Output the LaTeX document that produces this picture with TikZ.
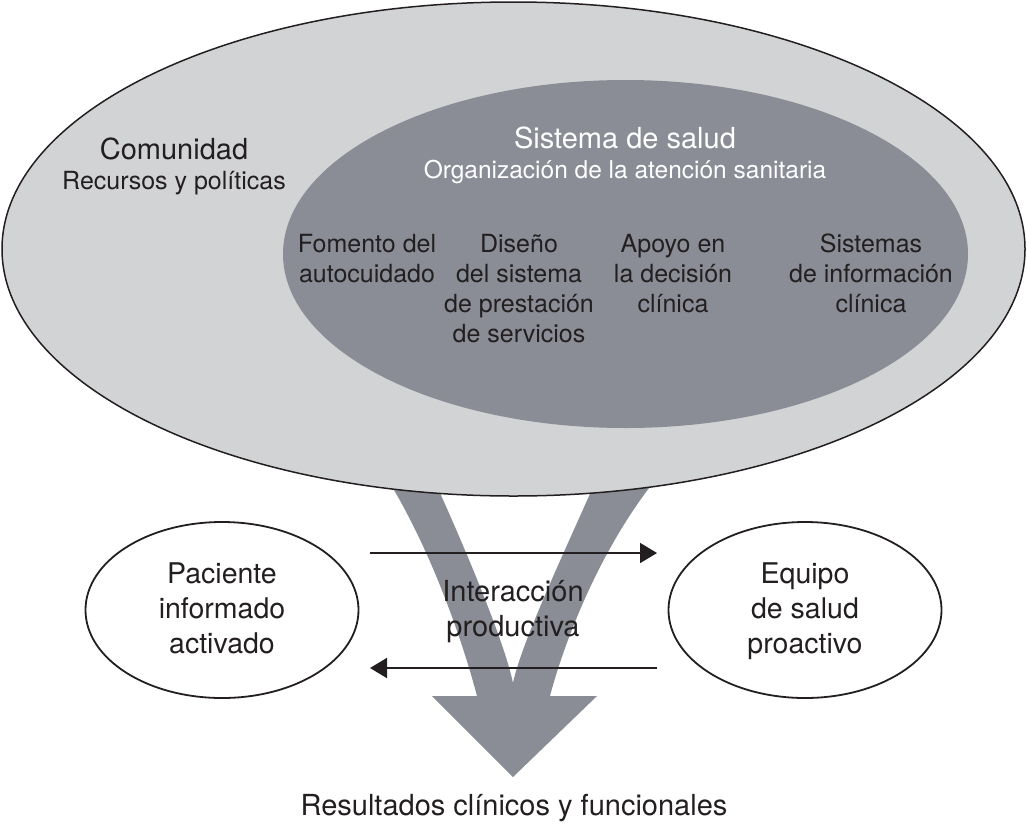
\documentclass[tikz,border=0pt]{standalone}
\usepackage{fontspec}
\setmainfont{TeX Gyre Heros}
\usetikzlibrary{arrows.meta,shapes.geometric}
\definecolor{outerfill}{HTML}{D2D3D5}
\definecolor{innerfill}{HTML}{8A8D95}
\definecolor{ink}{HTML}{231F20}
\begin{document}
\begin{tikzpicture}[x=1pt,y=-1pt,
  bigtxt/.style={font=\fontsize{29}{35}\selectfont, text=ink, inner sep=0pt, align=center},
  midtxt/.style={font=\fontsize{25}{30}\selectfont, text=ink, inner sep=0pt, align=center},
  smallell/.style={ellipse, draw=ink, line width=1.8pt, fill=white, minimum width=273pt, minimum height=176pt, inner sep=0pt},
  elltxt/.style={font=\fontsize{28.5}{35}\selectfont, text=ink, inner sep=0pt, align=center, anchor=base},
  harrow/.style={draw=ink, line width=1.8pt, -{Triangle[length=17pt,width=20pt]}}]
\useasboundingbox (0,0) rectangle (1027,833);
\fill[white] (0,0) rectangle (1027,833);
% big V arrow
\fill[innerfill] (375,460) .. controls (430,540) and (465,650) .. (477,696)
  -- (432,696) -- (513,777) -- (597,696) -- (550,696)
  .. controls (562,650) and (600,540) .. (672,460)
  -- (605,460) .. controls (570,540) and (522,640) .. (513,683)
  .. controls (504,640) and (462,540) .. (425,460) -- cycle;
% outer ellipse
\filldraw[fill=outerfill, draw=ink, line width=1.5pt] (513.5,249) ellipse [x radius=511.5, y radius=247];
% inner ellipse
\fill[innerfill] (625.5,254) ellipse [x radius=342.5, y radius=174];
% texts
\node[bigtxt, anchor=base] (com) at (174,159) {Comunidad};
\node[midtxt, anchor=base] (rec) at (174,189) {Recursos y políticas};
\node[bigtxt, text=white, anchor=base] (sis) at (625,148) {Sistema de salud};
\node[midtxt, font=\fontsize{24.5}{30}\selectfont, text=white, anchor=base] (org) at (625,178) {Organización de la atención sanitaria};
\node[midtxt, anchor=base] (c1) at (367,282) {Fomento del\\autocuidado};
\node[midtxt, anchor=base] (c2) at (519,342) {Diseño\\del sistema\\de prestación\\de servicios};
\node[midtxt, anchor=base] (c3) at (673,312) {Apoyo en\\la decisión\\clínica};
\node[midtxt, anchor=base] (c4) at (871,312) {Sistemas\\de información\\clínica};
% small ellipses
\node[smallell] (pac) at (222,610) {};
\node[smallell] (equ) at (805,610) {};
\node[elltxt] (pact) at (222,653) {Paciente\\informado\\activado};
\node[elltxt] (equt) at (805,653) {Equipo\\de salud\\proactivo};
% arrows
\coordinate (a1s) at (370,553);
\coordinate (a1e) at (657,553);
\coordinate (a2s) at (657,668);
\coordinate (a2e) at (370,668);
\draw[harrow] (a1s) -- (a1e);
\draw[harrow] (a2s) -- (a2e);
\node[bigtxt, anchor=base] (int) at (513,636) {Interacción\\productiva};
\node[bigtxt, anchor=base] (res) at (514,815) {Resultados clínicos y funcionales};
\end{tikzpicture}
\end{document}
